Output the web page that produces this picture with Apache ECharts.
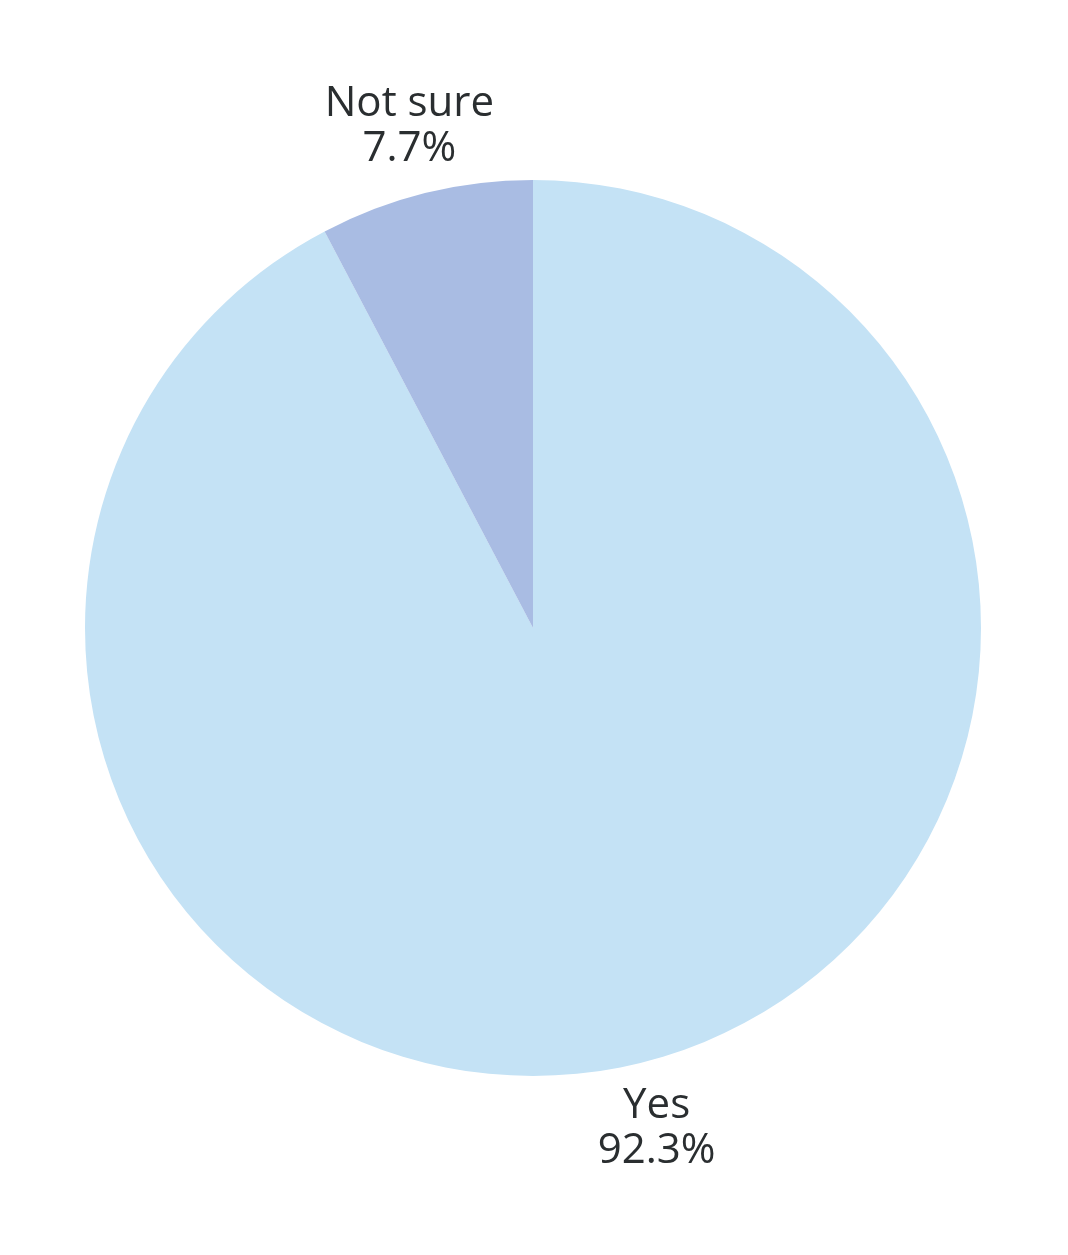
<!DOCTYPE html>
<html>
<head>
<meta charset="utf-8">
<style>html,body{margin:0;padding:0;background:#fff;}#chart{width:1068px;height:1255px;}</style>
<script src="https://cdn.jsdelivr.net/npm/echarts@6/dist/echarts.min.js"></script>
</head>
<body>
<div id="chart"></div>
<script>
const categories = ["Yes", "Not sure"];
const values = [92.3, 7.7];
const colors = ["#c4e2f5", "#a9bce3"];

const chart = echarts.init(document.getElementById('chart'), null, {renderer: 'canvas'});
chart.setOption({
  animation: false,
  backgroundColor: '#ffffff',
  series: [{
    type: 'pie',
    center: [533, 628],
    radius: 448,
    startAngle: 90,
    clockwise: true,
    silent: true,
    data: categories.map((c, i) => ({name: c, value: values[i], itemStyle: {color: colors[i]}})),
    label: {
      show: true,
      position: 'outside',
      formatter: p => p.name + '\n' + p.value.toFixed(1) + '%',
      fontFamily: 'Open Sans',
      fontSize: 42,
      lineHeight: 45,
      color: '#2a2e30',
      distanceToLabelLine: 0
    },
    labelLine: {show: false, length: 68, length2: 0},
    labelLayout: function () {
      return {align: 'center', verticalAlign: 'middle'};
    }
  }]
});
</script>
</body>
</html>
